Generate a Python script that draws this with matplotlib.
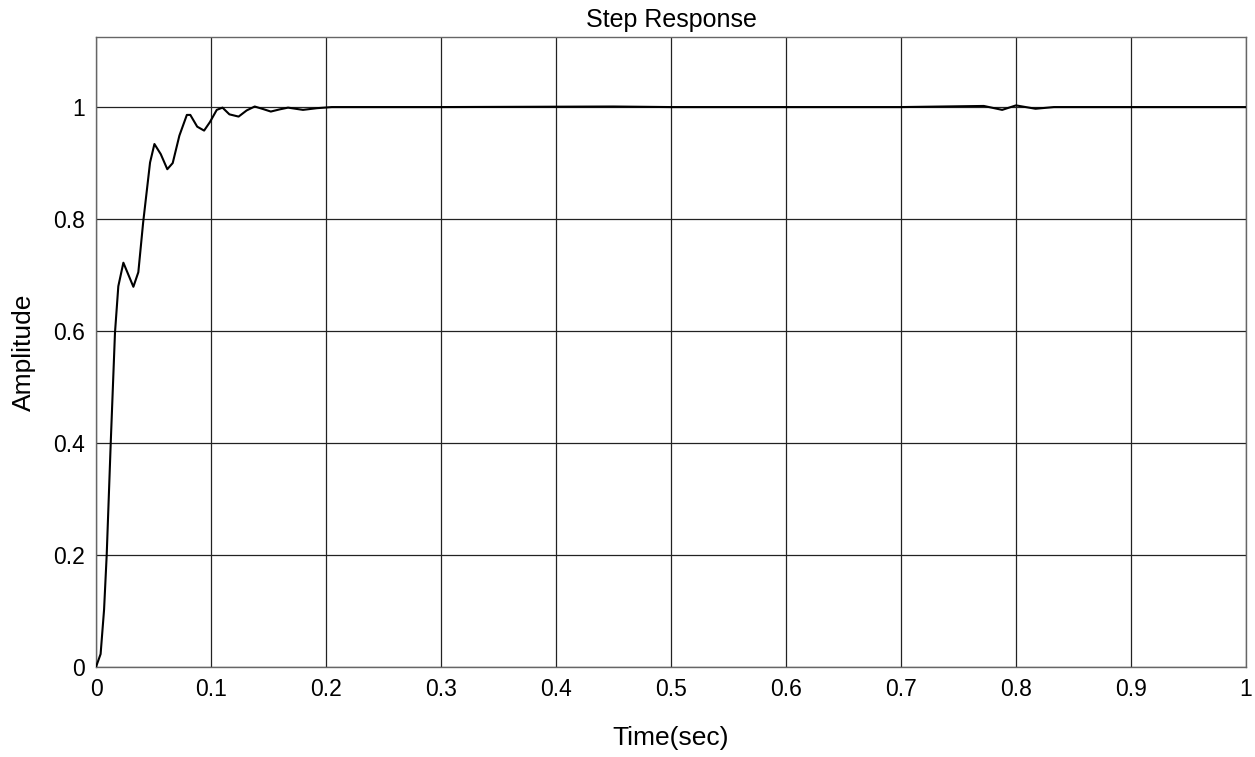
import numpy as np
import matplotlib
matplotlib.use("Agg")
from matplotlib import pyplot as plt

# step response samples
time_s = [0.0, 0.004, 0.007, 0.0093, 0.0128, 0.0165, 0.0194, 0.0238, 0.0325,
          0.0368, 0.041, 0.047, 0.0508, 0.0563, 0.062, 0.0667, 0.0725, 0.079,
          0.082, 0.088, 0.094, 0.099, 0.105, 0.110, 0.116, 0.124, 0.131, 0.138,
          0.146, 0.152, 0.160, 0.167, 0.180, 0.192, 0.205, 0.25, 0.30, 0.45,
          0.50, 0.60, 0.70, 0.772, 0.788, 0.800, 0.817, 0.833, 0.85, 1.0]
amplitude = [0.0, 0.023, 0.102, 0.200, 0.400, 0.597, 0.680, 0.722, 0.679,
             0.705, 0.794, 0.901, 0.934, 0.916, 0.889, 0.900, 0.949, 0.986,
             0.986, 0.965, 0.958, 0.973, 0.995, 0.999, 0.987, 0.983, 0.994, 1.001,
             0.996, 0.992, 0.996, 0.999, 0.995, 0.998, 1.0, 1.0, 1.0, 1.001,
             1.0, 1.0, 1.0, 1.002, 0.995, 1.003, 0.997, 1.0, 1.0, 1.0]

xticks = [0, 0.1, 0.2, 0.3, 0.4, 0.5, 0.6, 0.7, 0.8, 0.9, 1]
xticklabels = ["0", "0.1", "0.2", "0.3", "0.4", "0.5", "0.6", "0.7", "0.8", "0.9", "1"]
yticks = [0, 0.2, 0.4, 0.6, 0.8, 1]
yticklabels = ["0", "0.2", "0.4", "0.6", "0.8", "1"]

plt.rcParams["font.family"] = ["Liberation Sans", "DejaVu Sans"]

fig = plt.figure(figsize=(12.55, 7.57), dpi=100)
ax = fig.add_axes([0.0765, 0.119, 0.9163, 0.832])

ax.plot(time_s, amplitude, color="black", lw=1.5, zorder=3)

ax.set_xlim(0, 1)
ax.set_ylim(0, 1.125)
ax.set_xticks(xticks)
ax.set_xticklabels(xticklabels)
ax.set_yticks(yticks)
ax.set_yticklabels(yticklabels)
ax.tick_params(length=0, labelsize=16.5, pad=8)
ax.grid(True, color="#222222", lw=0.9)

for s in ax.spines.values():
    s.set_color("#666666")
    s.set_linewidth(1.0)

ax.set_title("Step Response", fontsize=18, pad=7)
ax.set_xlabel("Time(sec)", fontsize=19, labelpad=18)
ax.set_ylabel("Amplitude", fontsize=19, labelpad=12)

plt.savefig("out.png", dpi=100)
plt.close()
